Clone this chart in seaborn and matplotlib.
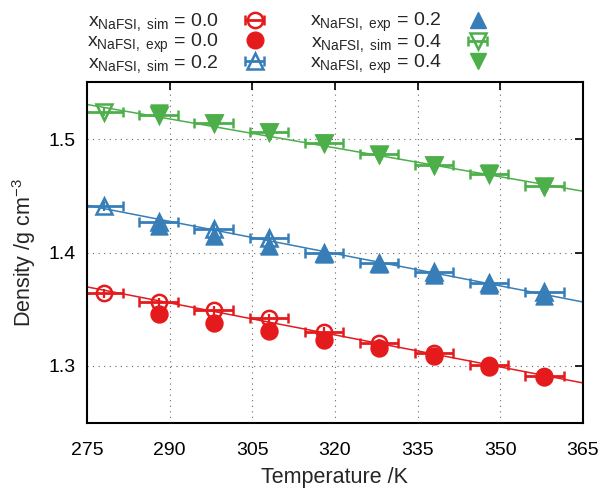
import numpy as np
import pandas as pd
import matplotlib
matplotlib.use("Agg")
import matplotlib.pyplot as plt
import seaborn as sns

# --- data -----------------------------------------------------------------
T_sim = [278, 288, 298, 308, 318, 328, 338, 348, 358]
T_exp = [288, 298, 308, 318, 328, 338, 348, 358]

rho_sim_00 = [1.364, 1.356, 1.349, 1.342, 1.330, 1.320, 1.311, 1.301, 1.291]
rho_exp_00 = [1.346, 1.338, 1.331, 1.323, 1.316, 1.309, 1.299, 1.290]

rho_sim_02 = [1.441, 1.427, 1.421, 1.413, 1.400, 1.391, 1.383, 1.373, 1.365]
rho_exp_02 = [1.423, 1.415, 1.406, 1.399, 1.390, 1.380, 1.371, 1.362]

rho_sim_04 = [1.524, 1.521, 1.514, 1.506, 1.497, 1.487, 1.477, 1.469, 1.459]
rho_exp_04 = [1.523, 1.514, 1.506, 1.497, 1.486, 1.477, 1.470, 1.458]

# linear fits, value at T = 275 K and T = 365 K
T_fit = [275, 365]
fit_00 = [1.3697, 1.2850]
fit_02 = [1.4417, 1.3564]
fit_04 = [1.5306, 1.4541]

T_err = 3.5
rho_err = 0.004

colors = {"0.0": "#e41a1c", "0.2": "#377eb8", "0.4": "#4daf4a"}

# --- style ------------------------------------------------------------------
sns.set_theme(style="white")
plt.rcParams["font.family"] = ["Liberation Sans", "DejaVu Sans"]
plt.rcParams["mathtext.fontset"] = "custom"
plt.rcParams["mathtext.rm"] = "Liberation Sans"
plt.rcParams["mathtext.it"] = "Liberation Sans"

fig = plt.figure(figsize=(6.04, 4.88), dpi=100)
ax = fig.add_axes([0.144, 0.134, 0.821, 0.697])

series = [
    ("0.0", rho_sim_00, rho_exp_00, fit_00, "o"),
    ("0.2", rho_sim_02, rho_exp_02, fit_02, "^"),
    ("0.4", rho_sim_04, rho_exp_04, fit_04, "v"),
]

handles = []
for x, sim, exp, fit, m in series:
    c = colors[x]
    sns.lineplot(x=T_fit, y=fit, color=c, lw=1.1, ax=ax, legend=False)
    # vertical bars (no caps) then horizontal bars with caps + hollow marker
    ax.errorbar(T_sim, sim, yerr=rho_err, fmt="none", ecolor=c,
                elinewidth=1.6, capsize=0)
    h_sim = ax.errorbar(T_sim, sim, xerr=T_err, fmt=m,
                        color=c, mfc="none", mec=c, mew=1.8, ms=11,
                        elinewidth=2.0, capsize=3.5, capthick=2.0,
                        label=r"$\mathrm{x}_{\mathrm{NaFSI,\ sim}}$ = " + x)
    df = pd.DataFrame({"T": T_exp, "rho": exp})
    sns.scatterplot(data=df, x="T", y="rho", marker=m, color=c,
                    edgecolor=c, s=150, ax=ax, zorder=4)
    h_exp = plt.Line2D([], [], marker=m, color=c, ls="none", ms=12,
                       label=r"$\mathrm{x}_{\mathrm{NaFSI,\ exp}}$ = " + x)
    handles += [h_sim, h_exp]

ax.set_xlim(275, 365)
ax.set_ylim(1.25, 1.55)
ax.set_xticks([275, 290, 305, 320, 335, 350, 365])
ax.set_yticks([1.3, 1.4, 1.5])
ax.set_yticklabels(["1.3", "1.4", "1.5"])
ax.grid(True, ls=(0, (1, 4)), color="#666666", lw=0.8)
ax.tick_params(direction="in", length=6, width=1.2, labelsize=14,
               top=True, right=True, colors="black")
ax.tick_params(axis="x", pad=14)
ax.tick_params(axis="y", pad=8)
for s in ax.spines.values():
    s.set_color("black")
    s.set_linewidth(1.5)

ax.set_xlabel("Temperature /K", fontsize=15.5, labelpad=6)
ax.set_ylabel(r"Density /g cm$^{-3}$", fontsize=15.5, labelpad=8)

leg = ax.legend(handles=handles, ncol=2, markerfirst=False, frameon=False,
                loc="lower left", bbox_to_anchor=(0.0, 1.02),
                fontsize=14, handlelength=2.5, columnspacing=1.6,
                labelspacing=-0.1, handletextpad=0.6, borderaxespad=0.0,
                borderpad=0.0)
for t in leg.get_texts():
    t.set_ha("right")

fig.savefig("out.png", dpi=100)
